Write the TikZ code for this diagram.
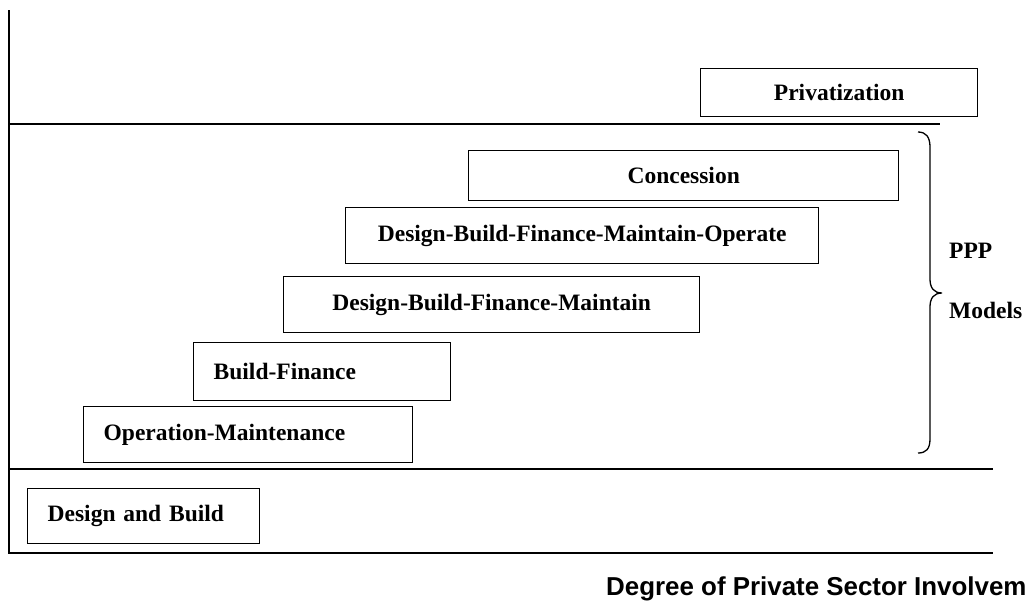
\documentclass[tikz,border=0pt]{standalone}
\usepackage{fontspec}
\setmainfont{Liberation Serif}
\newfontfamily\degfont{Liberation Sans}
\begin{document}
\begin{tikzpicture}[x=1pt,y=-1pt,
  axisline/.style={line width=1.6pt},
  box/.style={draw, line width=1.4pt, inner sep=0pt, anchor=north west,
    font=\fontsize{23.5}{28}\selectfont\bfseries},
  cbox/.style={box, align=center},
  lbox/.style={box, align=left, inner xsep=20pt},
  sidelabel/.style={anchor=base west, inner sep=0pt, font=\fontsize{23.5}{28}\selectfont\bfseries},
  bracestyle/.style={line width=1.3pt},
]
\useasboundingbox (0,0) rectangle (1029,603);
\clip (0,0) rectangle (1029,603);
% axes and separators
\coordinate (ytop) at (9,10);
\coordinate (o) at (9,553);
\coordinate (xend) at (993,553);
\coordinate (l1s) at (9,124);
\coordinate (l1e) at (940,124);
\coordinate (l2s) at (9,469);
\coordinate (l2e) at (993,469);
\draw[axisline] (ytop) -- (o) -- (xend);
\draw[axisline] (l1s) -- (l1e);
\draw[axisline] (l2s) -- (l2e);
% boxes
\node[cbox, minimum width=277pt, minimum height=48pt] (priv) at (700,68) {Privatization};
\node[cbox, minimum width=430pt, minimum height=50pt] (conc) at (468,150) {Concession};
\node[cbox, minimum width=473pt, minimum height=56pt] (dbfmo) at (345,207) {Design-Build-Finance-Maintain-Operate};
\node[cbox, minimum width=416pt, minimum height=56pt] (dbfm) at (283,276) {Design-Build-Finance-Maintain};
\node[lbox, text width=217pt, minimum height=58pt] (bf) at (193,342) {Build-Finance};
\node[lbox, text width=289pt, minimum height=56pt] (om) at (83,406) {Operation-Maintenance};
\node[lbox, text width=192pt, minimum height=55pt] (db) at (27,488) {Design and Build};
% brace
\coordinate (bt) at (918,132);
\coordinate (bm) at (942,293);
\coordinate (bb) at (918,453);
\draw[bracestyle] (bt) .. controls (926,132) and (930,137) .. (930,147) -- (930,279)
  .. controls (930,288) and (934,293) .. (bm)
  .. controls (934,293) and (930,298) .. (930,307) -- (930,439)
  .. controls (930,449) and (926,453) .. (bb);
\node[sidelabel] (ppp) at (949,258) {PPP};
\node[sidelabel] (models) at (949,318) {Models};
% axis label (printed cut off at the right edge in the reference)
\node[anchor=base west, inner sep=0pt, font=\degfont\fontsize{25.9}{30}\selectfont\bfseries] (deg) at (606,595) {Degree of Private Sector Involvem};
\end{tikzpicture}
\end{document}
